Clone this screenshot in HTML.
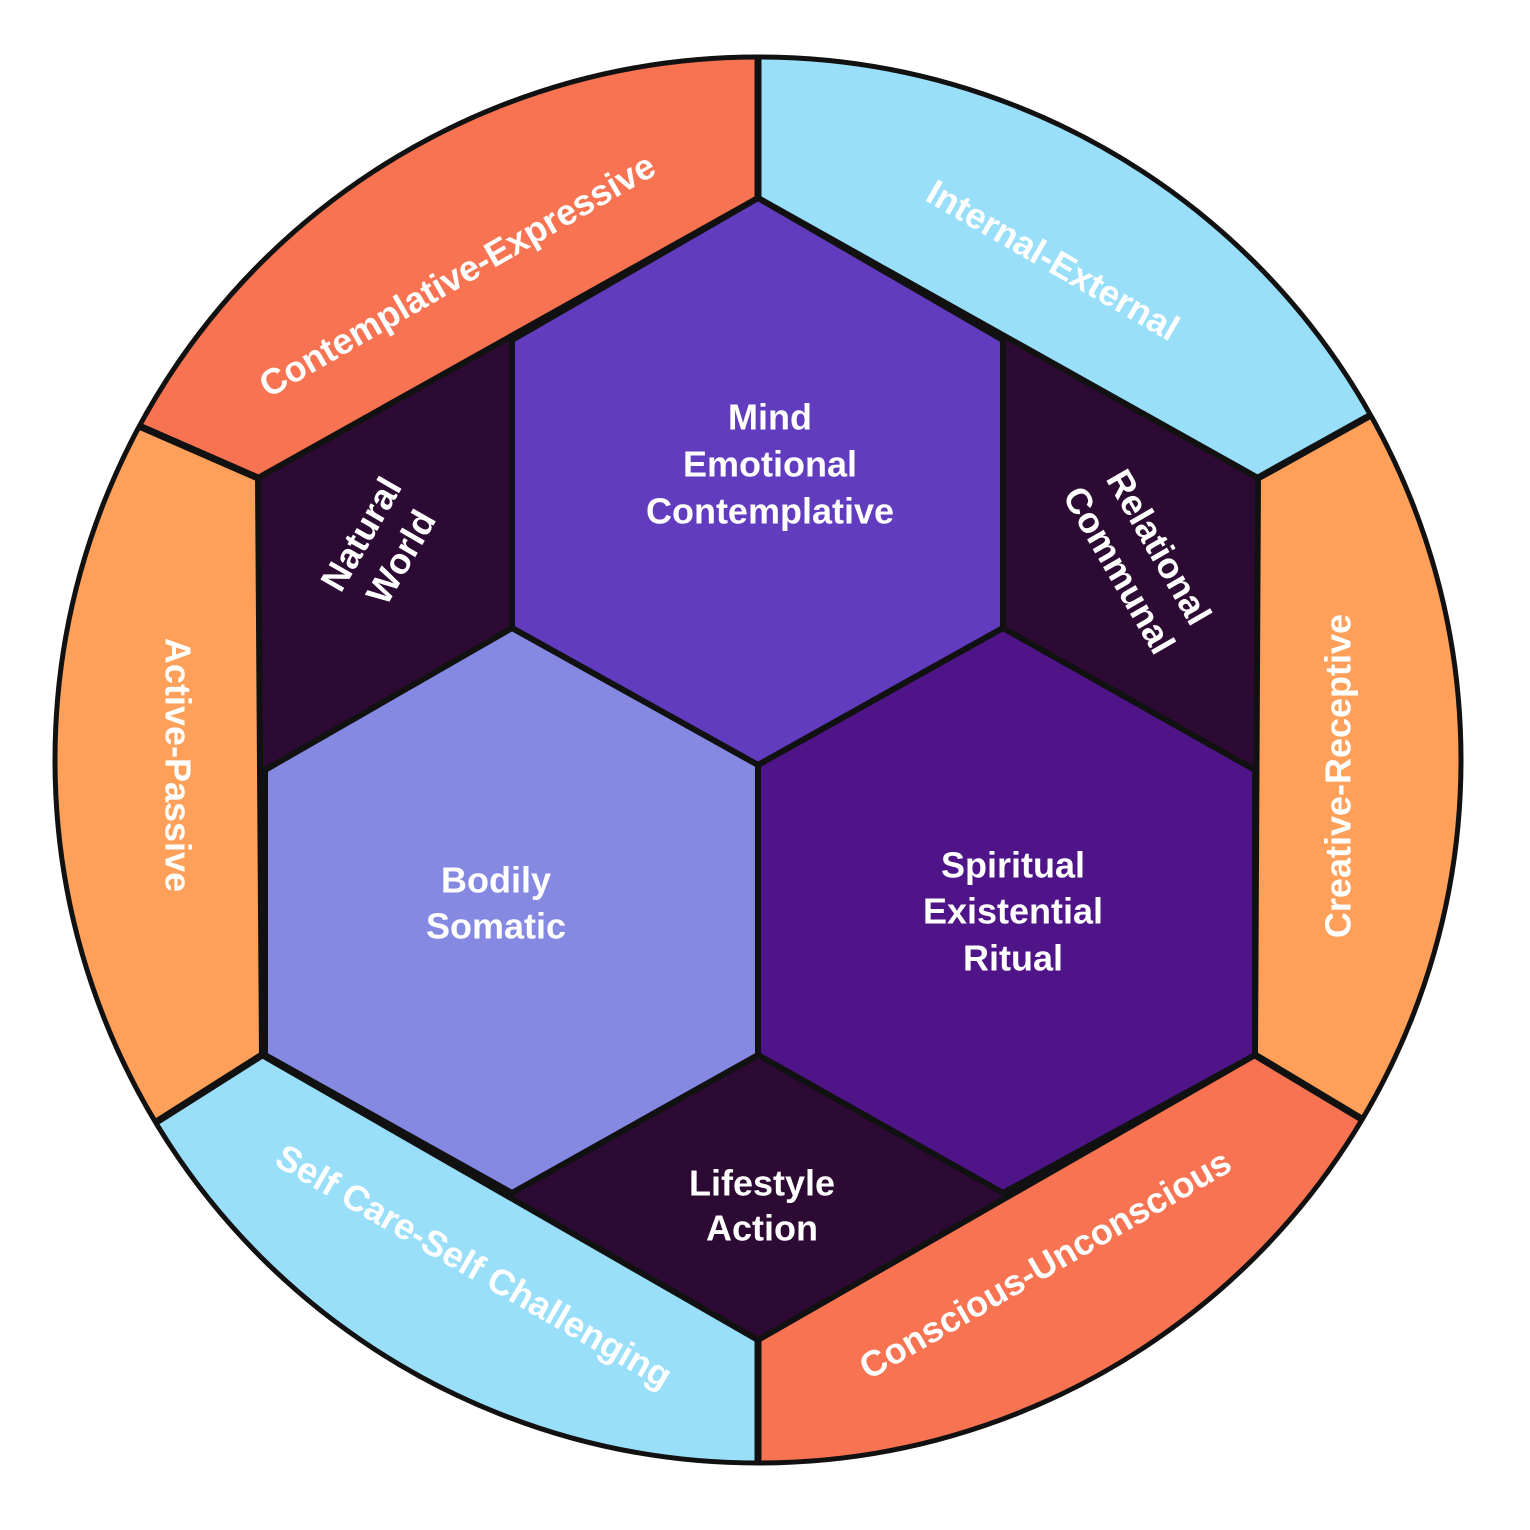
<!DOCTYPE html>
<html><head><style>html,body{margin:0;padding:0;background:#fff}svg{display:block}text{font-family:"Liberation Sans",sans-serif;font-weight:bold;fill:#fff;text-anchor:middle;dominant-baseline:central}</style></head>
<body>
<svg width="1530" height="1530" viewBox="0 0 1530 1530" xmlns="http://www.w3.org/2000/svg">
<defs><clipPath id="c"><circle cx="758" cy="760" r="703"/></clipPath></defs>
<g clip-path="url(#c)" stroke="#111" stroke-width="7" stroke-linejoin="round">
<polygon points="758,760 758,0 1500,0 1500,0 1365,418 1258,478 758,198" fill="#F77352" stroke="none"/>
<polygon points="758,198 758,0 0,0 0,330 145,430 258,478" fill="#F77352" stroke="none"/>
<polygon points="758,198 758,0 1530,0 1530,330 1365,418 1258,478" fill="#9ADFFA" stroke="none"/>
<polygon points="1258,478 1365,418 1530,330 1530,1200 1355,1115 1255,1055" fill="#FEA05A" stroke="none"/>
<polygon points="1255,1055 1355,1115 1530,1200 1530,1530 758,1530 758,1340" fill="#F77352" stroke="none"/>
<polygon points="758,1340 758,1530 0,1530 0,1200 162,1118 262,1055" fill="#9ADFFA" stroke="none"/>
<polygon points="262,1055 162,1118 0,1200 0,330 145,430 258,478" fill="#FEA05A" stroke="none"/>
<line x1="758" y1="198" x2="758" y2="40"/>
<line x1="1258" y1="478" x2="1380" y2="410"/>
<line x1="1255" y1="1055" x2="1370" y2="1124"/>
<line x1="758" y1="1340" x2="758" y2="1480"/>
<line x1="262" y1="1055" x2="150" y2="1126"/>
<line x1="258" y1="478" x2="130" y2="422"/>
</g>
<circle cx="758" cy="760" r="703" fill="none" stroke="#111" stroke-width="5"/>
<g stroke="#111" stroke-width="6" stroke-linejoin="round">
<polygon points="758,198 1258,478 1255,1055 758,1340 262,1055 258,478" fill="#2D0A33"/>
<polygon points="758,198 1003,340 1003,628 758,765 512,628 512,340" fill="#623CBF"/>
<polygon points="512,628 758,765 758,1055 512,1193 265,1055 265,770" fill="#8689E1"/>
<polygon points="1003,628 1255,770 1255,1055 1003,1193 758,1055 758,765" fill="#4F1488"/>
</g>
<g font-size="36">
<text x="770" y="417">Mind</text>
<text x="770" y="464">Emotional</text>
<text x="770" y="511">Contemplative</text>
<text x="496" y="880">Bodily</text>
<text x="496" y="926">Somatic</text>
<text x="1013" y="865">Spiritual</text>
<text x="1013" y="911">Existential</text>
<text x="1013" y="958">Ritual</text>
<text x="762" y="1183">Lifestyle</text>
<text x="762" y="1228">Action</text>
<g transform="translate(380,545) rotate(-60)"><text y="-22">Natural</text><text y="24">World</text></g>
<g transform="translate(1140,558) rotate(60)"><text y="-22">Relational</text><text y="24">Communal</text></g>
<text transform="translate(457,275) rotate(-30)">Contemplative-Expressive</text>
<text transform="translate(1053,260) rotate(30)">Internal-External</text>
<text transform="translate(1338,776) rotate(-90)">Creative-Receptive</text>
<text transform="translate(178,765) rotate(90)">Active-Passive</text>
<text transform="translate(474,1266) rotate(30)">Self Care-Self Challenging</text>
<text transform="translate(1045,1264) rotate(-30)">Conscious-Unconscious</text>
</g>
</svg>
</body></html>
